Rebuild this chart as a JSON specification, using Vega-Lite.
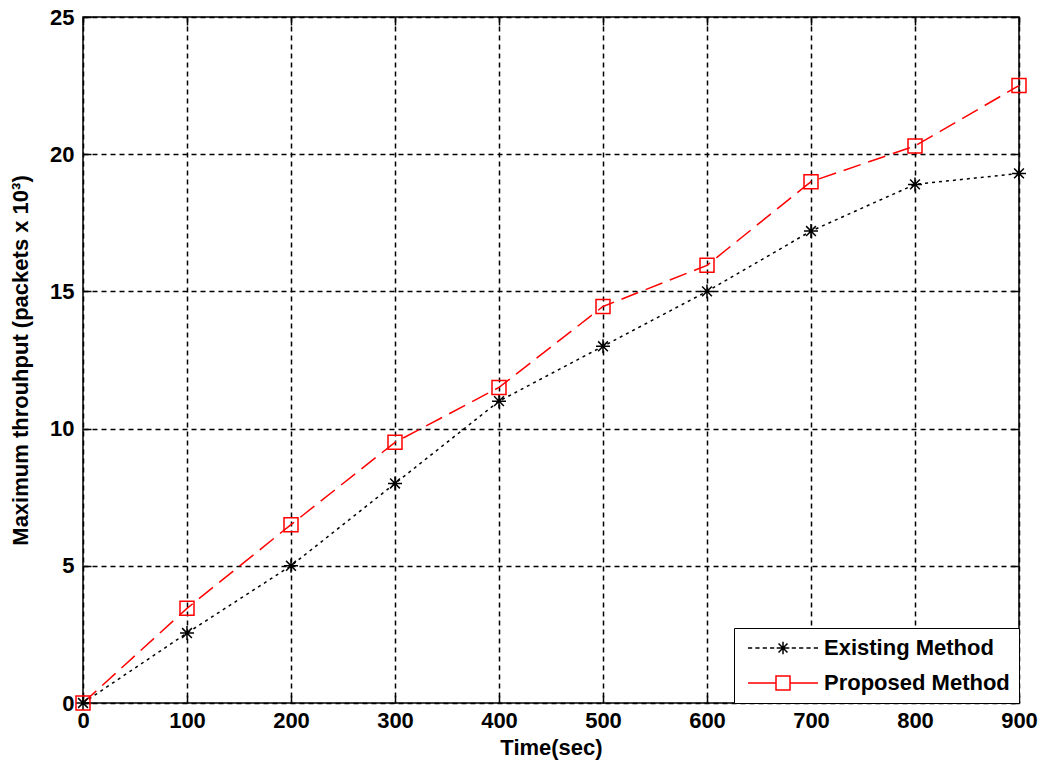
{
  "$schema": "https://vega.github.io/schema/vega-lite/v6.json",
  "width": 936,
  "height": 686,
  "autosize": "none",
  "padding": {"left": 83, "top": 17, "right": 25, "bottom": 68},
  "background": "white",
  "config": {
    "view": {"stroke": "black", "strokeWidth": 1.5},
    "font": "Liberation Sans"
  },
  "data": {
    "values": [
      {"time": 0, "series": "Existing Method", "value": 0},
      {"time": 100, "series": "Existing Method", "value": 2.55},
      {"time": 200, "series": "Existing Method", "value": 5.0},
      {"time": 300, "series": "Existing Method", "value": 8.0},
      {"time": 400, "series": "Existing Method", "value": 11.0},
      {"time": 500, "series": "Existing Method", "value": 13.0},
      {"time": 600, "series": "Existing Method", "value": 15.0},
      {"time": 700, "series": "Existing Method", "value": 17.2},
      {"time": 800, "series": "Existing Method", "value": 18.9},
      {"time": 900, "series": "Existing Method", "value": 19.3},
      {"time": 0, "series": "Proposed Method", "value": 0},
      {"time": 100, "series": "Proposed Method", "value": 3.45},
      {"time": 200, "series": "Proposed Method", "value": 6.5},
      {"time": 300, "series": "Proposed Method", "value": 9.5},
      {"time": 400, "series": "Proposed Method", "value": 11.5},
      {"time": 500, "series": "Proposed Method", "value": 14.45},
      {"time": 600, "series": "Proposed Method", "value": 15.95},
      {"time": 700, "series": "Proposed Method", "value": 19.0},
      {"time": 800, "series": "Proposed Method", "value": 20.3},
      {"time": 900, "series": "Proposed Method", "value": 22.5}
    ]
  },
  "layer": [
    {
      "transform": [{"filter": "datum.series === 'Existing Method'"}],
      "mark": {"type": "line", "strokeWidth": 1.5, "color": "black", "strokeDash": [3, 4]},
      "encoding": {
        "x": {
          "field": "time", "type": "quantitative",
          "scale": {"domain": [0, 900], "nice": false},
          "axis": {
            "orient": "bottom",
            "values": [0, 100, 200, 300, 400, 500, 600, 700, 800, 900],
            "grid": true, "gridColor": "black", "gridDash": [5, 4], "gridWidth": 1.5, "gridOpacity": 1,
            "domain": false,
            "ticks": true, "tickSize": -8, "tickColor": "black", "tickWidth": 1.5,
            "labelFontSize": 22, "labelFontWeight": "bold", "labelColor": "black", "labelPadding": 15, "labelFlush": false,
            "title": "Time(sec)", "titleFontSize": 22, "titleFontWeight": "bold", "titleColor": "black", "titlePadding": 6
          }
        },
        "y": {
          "field": "value", "type": "quantitative",
          "scale": {"domain": [0, 25], "nice": false},
          "axis": {
            "orient": "left",
            "values": [0, 5, 10, 15, 20, 25],
            "grid": true, "gridColor": "black", "gridDash": [5, 4], "gridWidth": 1.5, "gridOpacity": 1,
            "domain": false,
            "ticks": true, "tickSize": -8, "tickColor": "black", "tickWidth": 1.5,
            "labelFontSize": 22, "labelFontWeight": "bold", "labelColor": "black", "labelPadding": 17, "labelFlush": false,
            "title": "Maximum throuhput (packets x 10³)", "titleFontSize": 22, "titleFontWeight": "bold", "titleColor": "black", "titlePadding": 17
          }
        }
      }
    },
    {
      "transform": [{"filter": "datum.series === 'Proposed Method'"}],
      "mark": {"type": "line", "strokeWidth": 1.5, "color": "#ff0000", "strokeDash": [18, 8]},
      "encoding": {
        "x": {"field": "time", "type": "quantitative", "axis": null},
        "y": {"field": "value", "type": "quantitative", "axis": null}
      }
    },
    {
      "transform": [{"filter": "datum.series === 'Existing Method'"}],
      "mark": {"type": "point", "filled": false, "size": 196, "strokeWidth": 1.5, "opacity": 1, "color": "black",
               "shape": "M0,-1V1M-1,0H1M-0.7,-0.7L0.7,0.7M-0.7,0.7L0.7,-0.7"},
      "encoding": {
        "x": {
          "field": "time", "type": "quantitative",
          "axis": {
            "orient": "top",
            "values": [0, 100, 200, 300, 400, 500, 600, 700, 800, 900],
            "grid": false, "domain": false, "labels": false, "title": null,
            "ticks": true, "tickSize": -8, "tickColor": "black", "tickWidth": 1.5
          }
        },
        "y": {
          "field": "value", "type": "quantitative",
          "axis": {
            "orient": "right",
            "values": [0, 5, 10, 15, 20, 25],
            "grid": false, "domain": false, "labels": false, "title": null,
            "ticks": true, "tickSize": -8, "tickColor": "black", "tickWidth": 1.5
          }
        }
      }
    },
    {
      "transform": [{"filter": "datum.series === 'Proposed Method'"}],
      "mark": {"type": "point", "filled": false, "size": 196, "strokeWidth": 1.5, "opacity": 1, "color": "#ff0000",
               "shape": "M-1,-1H1V1H-1Z"},
      "encoding": {
        "x": {"field": "time", "type": "quantitative", "axis": null},
        "y": {"field": "value", "type": "quantitative", "axis": null}
      }
    },
    {
      "mark": {"type": "point", "filled": false, "size": 196, "strokeWidth": 1.5, "opacity": 0},
      "encoding": {
        "x": {"field": "time", "type": "quantitative", "axis": null},
        "y": {"field": "value", "type": "quantitative", "axis": null},
        "color": {
          "field": "series", "type": "nominal",
          "scale": {"domain": ["Existing Method", "Proposed Method"], "range": ["black", "#ff0000"]},
          "legend": {
            "title": null,
            "orient": "bottom-right",
            "offset": 0,
            "strokeColor": "black",
            "fillColor": "white",
            "padding": 9,
            "symbolSize": 196,
            "symbolStrokeWidth": 1.5,
            "symbolOpacity": 1,
            "symbolOffset": 29,
            "labelOffset": 30,
            "labelFontSize": 22,
            "labelFontWeight": "bold",
            "labelColor": "black",
            "labelLimit": 300,
            "rowPadding": 13,
            "symbolFillColor": "transparent",
            "symbolType": {"expr": "datum.label === 'Existing Method' ? 'M-5,0H-4.4M-3.95,0H-3.35M-2.9,0H-2.3M-1.85,0H-1.25M1.25,0H1.85M2.3,0H2.9M3.35,0H3.95M4.4,0H5M0,-0.9V0.9M-0.9,0H0.9M-0.64,-0.64L0.64,0.64M-0.64,0.64L0.64,-0.64' : 'M-5,0H-1M1,0H5M-1,-1H1V1H-1Z'"}
          }
        }
      }
    }
  ],
  "resolve": {"axis": {"x": "independent", "y": "independent"}}
}
